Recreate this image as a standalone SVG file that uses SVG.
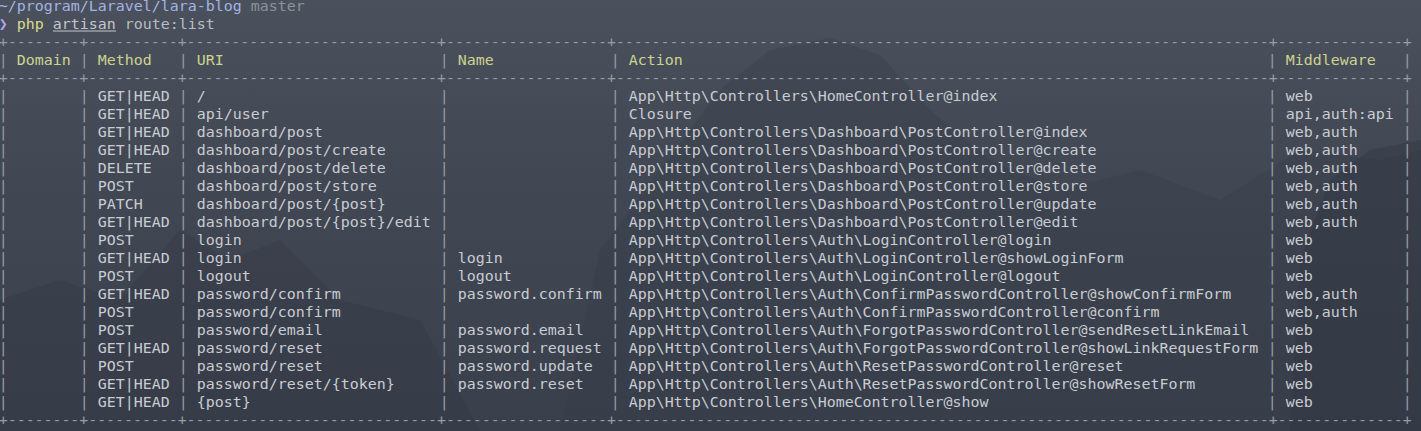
<svg xmlns="http://www.w3.org/2000/svg" width="1421" height="431" viewBox="0 0 1421 431">
<defs>
<linearGradient id="sky" x1="0" y1="0" x2="0" y2="1">
<stop offset="0" stop-color="#4b515c"/>
<stop offset="0.35" stop-color="#424854"/>
<stop offset="1" stop-color="#393f4b"/>
</linearGradient>
<style>
text{font-family:"DejaVu Sans Mono","Liberation Mono",monospace;font-size:14.95px;white-space:pre}
.b{fill:#979ba3}
.t{fill:#c9ccd2}
.h{fill:#cdd38f}
</style>
</defs>
<g id="background">
<rect width="1421" height="431" fill="url(#sky)"/>
<path d="M560,431 L600,250 L660,170 L720,90 L770,50 L830,38 L880,55 L930,110 L990,160 L1060,190 L1140,170 L1220,200 L1300,150 L1380,160 L1421,150 L1421,431 Z" fill="#353b47" opacity="0.3"/>
<path d="M1290,431 L1300,260 L1330,180 L1370,150 L1421,140 L1421,431 Z" fill="#2f3440" opacity="0.35"/>
<path d="M0,431 L0,300 L60,280 L120,300 L180,230 L230,260 L280,240 L340,300 L420,320 L480,431 Z" fill="#313642" opacity="0.3"/>
</g>
<g id="prompt">
<text x="-1.2" y="11.3" fill="#a3b3e3">~/program/Laravel/lara-blog</text>
<text x="250.8" y="11.3" fill="#8d9199">master</text>
<text x="-1.2" y="28.5" fill="#b3a2ee" font-weight="bold">❯</text>
<text x="16.8" y="28.5" fill="#d8db8e">php</text>
<text x="52.8" y="28.5" fill="#c3c6cd">artisan</text>
<line x1="53" y1="31" x2="116" y2="31" stroke="#c3c6cd" stroke-width="1"/>
<text x="124.8" y="28.5" fill="#b9bcc3">route:list</text>
</g>
<g id="borders" class="b">
<text x="-1.2" y="46.5" textLength="1413" lengthAdjust="spacing">+--------+----------+----------------------------+------------------+-------------------------------------------------------------------------+--------------+</text>
<text x="-1.2" y="82.5" textLength="1413" lengthAdjust="spacing">+--------+----------+----------------------------+------------------+-------------------------------------------------------------------------+--------------+</text>
<text x="-1.2" y="424.5" textLength="1413" lengthAdjust="spacing">+--------+----------+----------------------------+------------------+-------------------------------------------------------------------------+--------------+</text>
</g>
<g id="pipes" class="b">
<text x="-1.2 -1.2 -1.2 -1.2 -1.2 -1.2 -1.2 -1.2 -1.2 -1.2 -1.2 -1.2 -1.2 -1.2 -1.2 -1.2 -1.2 -1.2 -1.2" y="64.5 100.5 118.5 136.5 154.5 172.5 190.5 208.5 226.5 244.5 262.5 280.5 298.5 316.5 334.5 352.5 370.5 388.5 406.5">|||||||||||||||||||</text>
<text x="79.8 79.8 79.8 79.8 79.8 79.8 79.8 79.8 79.8 79.8 79.8 79.8 79.8 79.8 79.8 79.8 79.8 79.8 79.8" y="64.5 100.5 118.5 136.5 154.5 172.5 190.5 208.5 226.5 244.5 262.5 280.5 298.5 316.5 334.5 352.5 370.5 388.5 406.5">|||||||||||||||||||</text>
<text x="178.8 178.8 178.8 178.8 178.8 178.8 178.8 178.8 178.8 178.8 178.8 178.8 178.8 178.8 178.8 178.8 178.8 178.8 178.8" y="64.5 100.5 118.5 136.5 154.5 172.5 190.5 208.5 226.5 244.5 262.5 280.5 298.5 316.5 334.5 352.5 370.5 388.5 406.5">|||||||||||||||||||</text>
<text x="439.8 439.8 439.8 439.8 439.8 439.8 439.8 439.8 439.8 439.8 439.8 439.8 439.8 439.8 439.8 439.8 439.8 439.8 439.8" y="64.5 100.5 118.5 136.5 154.5 172.5 190.5 208.5 226.5 244.5 262.5 280.5 298.5 316.5 334.5 352.5 370.5 388.5 406.5">|||||||||||||||||||</text>
<text x="610.8 610.8 610.8 610.8 610.8 610.8 610.8 610.8 610.8 610.8 610.8 610.8 610.8 610.8 610.8 610.8 610.8 610.8 610.8" y="64.5 100.5 118.5 136.5 154.5 172.5 190.5 208.5 226.5 244.5 262.5 280.5 298.5 316.5 334.5 352.5 370.5 388.5 406.5">|||||||||||||||||||</text>
<text x="1267.8 1267.8 1267.8 1267.8 1267.8 1267.8 1267.8 1267.8 1267.8 1267.8 1267.8 1267.8 1267.8 1267.8 1267.8 1267.8 1267.8 1267.8 1267.8" y="64.5 100.5 118.5 136.5 154.5 172.5 190.5 208.5 226.5 244.5 262.5 280.5 298.5 316.5 334.5 352.5 370.5 388.5 406.5">|||||||||||||||||||</text>
<text x="1402.8 1402.8 1402.8 1402.8 1402.8 1402.8 1402.8 1402.8 1402.8 1402.8 1402.8 1402.8 1402.8 1402.8 1402.8 1402.8 1402.8 1402.8 1402.8" y="64.5 100.5 118.5 136.5 154.5 172.5 190.5 208.5 226.5 244.5 262.5 280.5 298.5 316.5 334.5 352.5 370.5 388.5 406.5">|||||||||||||||||||</text>
</g>
<g id="header" class="h">
<text x="16.8" y="64.5">Domain</text>
<text x="97.8" y="64.5">Method</text>
<text x="196.8" y="64.5">URI</text>
<text x="457.8" y="64.5">Name</text>
<text x="628.8" y="64.5">Action</text>
<text x="1285.8" y="64.5">Middleware</text>
</g>
<g id="col-method" class="t">
<text x="97.8" y="100.5">GET|HEAD</text>
<text x="97.8" y="118.5">GET|HEAD</text>
<text x="97.8" y="136.5">GET|HEAD</text>
<text x="97.8" y="154.5">GET|HEAD</text>
<text x="97.8" y="172.5">DELETE</text>
<text x="97.8" y="190.5">POST</text>
<text x="97.8" y="208.5">PATCH</text>
<text x="97.8" y="226.5">GET|HEAD</text>
<text x="97.8" y="244.5">POST</text>
<text x="97.8" y="262.5">GET|HEAD</text>
<text x="97.8" y="280.5">POST</text>
<text x="97.8" y="298.5">GET|HEAD</text>
<text x="97.8" y="316.5">POST</text>
<text x="97.8" y="334.5">POST</text>
<text x="97.8" y="352.5">GET|HEAD</text>
<text x="97.8" y="370.5">POST</text>
<text x="97.8" y="388.5">GET|HEAD</text>
<text x="97.8" y="406.5">GET|HEAD</text>
</g>
<g id="col-uri" class="t">
<text x="196.8" y="100.5">/</text>
<text x="196.8" y="118.5">api/user</text>
<text x="196.8" y="136.5">dashboard/post</text>
<text x="196.8" y="154.5">dashboard/post/create</text>
<text x="196.8" y="172.5">dashboard/post/delete</text>
<text x="196.8" y="190.5">dashboard/post/store</text>
<text x="196.8" y="208.5">dashboard/post/{post}</text>
<text x="196.8" y="226.5">dashboard/post/{post}/edit</text>
<text x="196.8" y="244.5">login</text>
<text x="196.8" y="262.5">login</text>
<text x="196.8" y="280.5">logout</text>
<text x="196.8" y="298.5">password/confirm</text>
<text x="196.8" y="316.5">password/confirm</text>
<text x="196.8" y="334.5">password/email</text>
<text x="196.8" y="352.5">password/reset</text>
<text x="196.8" y="370.5">password/reset</text>
<text x="196.8" y="388.5">password/reset/{token}</text>
<text x="196.8" y="406.5">{post}</text>
</g>
<g id="col-name" class="t">
<text x="457.8" y="262.5">login</text>
<text x="457.8" y="280.5">logout</text>
<text x="457.8" y="298.5">password.confirm</text>
<text x="457.8" y="334.5">password.email</text>
<text x="457.8" y="352.5">password.request</text>
<text x="457.8" y="370.5">password.update</text>
<text x="457.8" y="388.5">password.reset</text>
</g>
<g id="col-action" class="t">
<text x="628.8" y="100.5">App\Http\Controllers\HomeController@index</text>
<text x="628.8" y="118.5">Closure</text>
<text x="628.8" y="136.5">App\Http\Controllers\Dashboard\PostController@index</text>
<text x="628.8" y="154.5">App\Http\Controllers\Dashboard\PostController@create</text>
<text x="628.8" y="172.5">App\Http\Controllers\Dashboard\PostController@delete</text>
<text x="628.8" y="190.5">App\Http\Controllers\Dashboard\PostController@store</text>
<text x="628.8" y="208.5">App\Http\Controllers\Dashboard\PostController@update</text>
<text x="628.8" y="226.5">App\Http\Controllers\Dashboard\PostController@edit</text>
<text x="628.8" y="244.5">App\Http\Controllers\Auth\LoginController@login</text>
<text x="628.8" y="262.5">App\Http\Controllers\Auth\LoginController@showLoginForm</text>
<text x="628.8" y="280.5">App\Http\Controllers\Auth\LoginController@logout</text>
<text x="628.8" y="298.5">App\Http\Controllers\Auth\ConfirmPasswordController@showConfirmForm</text>
<text x="628.8" y="316.5">App\Http\Controllers\Auth\ConfirmPasswordController@confirm</text>
<text x="628.8" y="334.5">App\Http\Controllers\Auth\ForgotPasswordController@sendResetLinkEmail</text>
<text x="628.8" y="352.5">App\Http\Controllers\Auth\ForgotPasswordController@showLinkRequestForm</text>
<text x="628.8" y="370.5">App\Http\Controllers\Auth\ResetPasswordController@reset</text>
<text x="628.8" y="388.5">App\Http\Controllers\Auth\ResetPasswordController@showResetForm</text>
<text x="628.8" y="406.5">App\Http\Controllers\HomeController@show</text>
</g>
<g id="col-middleware" class="t">
<text x="1285.8" y="100.5">web</text>
<text x="1285.8" y="118.5">api,auth:api</text>
<text x="1285.8" y="136.5">web,auth</text>
<text x="1285.8" y="154.5">web,auth</text>
<text x="1285.8" y="172.5">web,auth</text>
<text x="1285.8" y="190.5">web,auth</text>
<text x="1285.8" y="208.5">web,auth</text>
<text x="1285.8" y="226.5">web,auth</text>
<text x="1285.8" y="244.5">web</text>
<text x="1285.8" y="262.5">web</text>
<text x="1285.8" y="280.5">web</text>
<text x="1285.8" y="298.5">web,auth</text>
<text x="1285.8" y="316.5">web,auth</text>
<text x="1285.8" y="334.5">web</text>
<text x="1285.8" y="352.5">web</text>
<text x="1285.8" y="370.5">web</text>
<text x="1285.8" y="388.5">web</text>
<text x="1285.8" y="406.5">web</text>
</g>
</svg>
